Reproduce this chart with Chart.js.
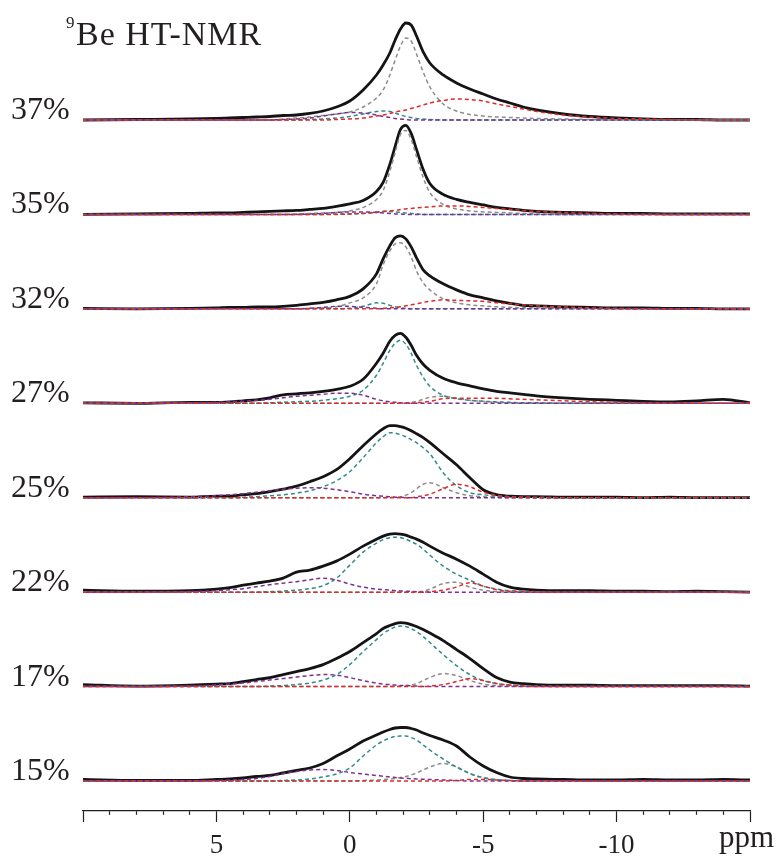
<!DOCTYPE html>
<html>
<head>
<meta charset="utf-8">
<script src="https://cdn.jsdelivr.net/npm/chart.js@4.4.1/dist/chart.umd.min.js"></script>
<style>
  html, body { margin: 0; padding: 0; background: #ffffff; }
  #wrap { width: 780px; height: 858px; }
</style>
</head>
<body>
<div id="wrap"><canvas id="nmr" width="780" height="858"></canvas></div>
<script>
// Chemical shift grid (ppm), shared by every trace
const PPM = [10, 8, 6, 5, 4.5, 4, 3.5, 3, 2.5, 2,
             1.5, 1, 0.5, 0, -0.5, -1, -1.25, -1.5, -1.7, -1.9,
             -2.1, -2.3, -2.5, -2.75, -3, -3.5, -4, -4.5, -5, -5.5,
             -6, -6.5, -7, -8, -9, -10, -11, -12, -13, -14,
             -15];

const SAMPLE_LABELS = ['37%', '35%', '32%', '27%', '25%', '22%', '17%', '15%'];
const X_TICK_LABELS = [5, 0, -5, -10];

// ---- 37% ----
const exp37 = [0, 0.5, 1, 1.5, 2, 2.5, 3, 3.5, 4.5, 5,
               6.5, 9, 13, 19, 30, 45, 55, 67, 80, 91,
               97, 95, 84, 68, 57, 45, 37, 31, 26, 21,
               17, 13, 10, 6, 3.5, 2, 1, 0.5, 0.5, 0,
               0];
const gray37 = [0, 0, 0, 0, 0, 0, 0, 0, 1, 2,
                3, 4.5, 6, 8, 13, 22, 30, 45, 60, 74,
                82, 79, 66, 48, 33, 16, 9, 5.5, 4, 3,
                2.5, 2, 1.5, 1, 0.5, 0, 0, 0, 0, 0,
                0];
const teal37 = [0, 0, 0, 0, 0, 0, 0, 0, 0, 0,
                0.5, 1, 2, 3.5, 6, 8.5, 9, 8.5, 7, 5,
                3.5, 2.5, 1.5, 1, 0.5, 0, 0, 0, 0, 0,
                0, 0, 0, 0, 0, 0, 0, 0, 0, 0,
                0];
const purple37 = [0, 0, 0, 0, 0, 0, 0, 0, 0.5, 1,
                  2, 4, 6, 7.5, 7, 5, 3.5, 2.5, 1.5, 1,
                  0.5, 0, 0, 0, 0, 0, 0, 0, 0, 0,
                  0, 0, 0, 0, 0, 0, 0, 0, 0, 0,
                  0];
const red37 = [0, 0, 0, 0, 0, 0, 0, 0, 0, 0,
               0, 0, 0.5, 1, 2, 4, 5, 6.5, 8, 9,
               10, 11.5, 13, 15, 17, 19.5, 21, 20.5, 19, 16,
               13.5, 11, 8.5, 5, 3, 1.5, 1, 0.5, 0, 0,
               0];

// ---- 35% ----
const exp35 = [0, 0.5, 1, 1.5, 1.5, 2, 2.5, 3, 3.5, 4,
               5, 6, 8, 10.5, 14, 23, 32, 50, 68, 85,
               89, 81, 65, 45, 31, 20, 15, 12, 9.5, 7,
               5.5, 4, 3, 2, 1.5, 1, 1, 0.5, 0.5, 0.5,
               0.5];
const gray35 = [0, 0, 0, 0, 0, 0, 0, 0, 0, 0.5,
                1, 1.5, 2, 3.5, 7, 15, 24, 43, 62, 80,
                84, 75, 58, 37, 22, 10, 5.5, 3.5, 2.5, 2,
                1.5, 1, 0.5, 0, 0, 0, 0, 0, 0, 0,
                0];
const teal35 = [0, 0, 0, 0, 0, 0, 0, 0, 0, 0,
                0, 0, 0.5, 0.5, 1, 2.5, 3, 3, 2.5, 2,
                1.5, 1, 0.5, 0, 0, 0, 0, 0, 0, 0,
                0, 0, 0, 0, 0, 0, 0, 0, 0, 0,
                0];
const purple35 = [0, 0, 0, 0, 0, 0, 0, 0, 0, 0,
                  0.5, 1, 2, 2.5, 2.5, 2, 1.5, 1, 0.5, 0.5,
                  0, 0, 0, 0, 0, 0, 0, 0, 0, 0,
                  0, 0, 0, 0, 0, 0, 0, 0, 0, 0,
                  0];
const red35 = [0, 0, 0, 0, 0, 0, 0, 0, 0, 0,
               0, 0, 0, 0.5, 1, 2, 3, 3.5, 4, 5,
               5.5, 6, 6.5, 7, 7.5, 8.5, 8.5, 8, 7, 6,
               5, 4, 3, 2, 1, 0.5, 0, 0, 0, 0,
               0];

// ---- 32% ----
const exp32 = [0.5, 0, 0.5, 1, 1.5, 1.5, 2, 2, 2.5, 3.5,
               5, 6.5, 9, 12.5, 20, 35, 50, 63, 71, 73,
               70, 62, 51, 39, 33, 25, 19, 14, 11, 8,
               5.5, 3.5, 3, 2, 1.5, 1, 1, 0.5, 0.5, 0,
               0];
const gray32 = [0, 0, 0, 0, 0, 0, 0, 0, 0, 0,
                0.5, 1, 2, 6, 11, 25, 44, 58, 65, 66,
                62, 52, 38, 26, 19, 10, 6, 4, 3, 2,
                1.5, 1, 1, 0.5, 0, 0, 0, 0, 0, 0,
                0];
const teal32 = [0, 0, 0, 0, 0, 0, 0, 0, 0, 0,
                0, 0, 0, 0.5, 2.5, 6, 5.5, 3.5, 2, 1,
                0.5, 0, 0, 0, 0, 0, 0, 0, 0, 0,
                0, 0, 0, 0, 0, 0, 0, 0, 0, 0,
                0];
const purple32 = [0, 0, 0, 0, 0, 0, 0, 0, 0, 0,
                  0.5, 1.5, 2.5, 2.5, 1.5, 0.5, 0, 0, 0, 0,
                  0, 0, 0, 0, 0, 0, 0, 0, 0, 0,
                  0, 0, 0, 0, 0, 0, 0, 0, 0, 0,
                  0];
const red32 = [0, 0, 0, 0, 0, 0, 0, 0, 0, 0,
               0, 0, 0, 0, 0, 0, 0.5, 1, 1.5, 2,
               3, 4, 5, 6.5, 7.5, 9, 8.5, 8, 7.5, 6,
               5, 4, 3, 2, 1, 0.5, 0, 0, 0, 0,
               0];

// ---- 27% ----
const exp27 = [0.5, 0, 1, 1, 1.5, 2.5, 3.5, 5.5, 8.5, 9.5,
               10.5, 12, 14, 17, 24, 40, 50, 62, 68, 70,
               66, 58, 48, 39, 33, 25, 20.5, 17.5, 14.5, 12,
               10.5, 9, 7.5, 5.5, 4, 3, 2, 1.5, 2.5, 4,
               0.5];
const gray27 = [0, 0, 0, 0, 0, 0, 0, 0, 0, 0,
                0, 0, 0, 0, 0, 0, 0, 0, 0, 0.5,
                0.5, 1, 2, 4, 6, 7, 5, 3, 2, 1,
                0.5, 0, 0, 0, 0, 0, 0, 0, 0, 0,
                0];
const teal27 = [0, 0, 0, 0, 0, 0, 0, 0.5, 1, 1.5,
                2, 3, 4.5, 7, 13, 28, 40, 53, 60, 63,
                59, 50, 38, 26, 17, 8, 4.5, 3, 2, 1.5,
                1, 0.5, 0.5, 0, 0, 0, 0, 0, 0, 0,
                0];
const purple27 = [0, 0, 0.5, 1, 1.5, 2, 3, 4, 5.5, 7,
                  8, 9, 10, 10, 8, 4, 2.5, 1.5, 1, 0.5,
                  0, 0, 0, 0, 0, 0, 0, 0, 0, 0,
                  0, 0, 0, 0, 0, 0, 0, 0, 0, 0,
                  0];
const red27 = [0, 0, 0, 0, 0, 0, 0, 0, 0, 0,
               0, 0, 0, 0, 0, 0, 0, 0, 0, 0,
               0, 0, 0.5, 1, 2, 4.5, 5, 5, 5, 5,
               4.5, 4, 3.5, 2.5, 1.5, 1, 0.5, 0, 0, 0,
               0];

// ---- 25% ----
const exp25 = [0.5, 1, 0.5, 1.5, 1.5, 3, 4, 6, 8.5, 11.5,
               16, 21, 28, 39, 52, 64, 69, 72, 72, 71,
               69.5, 67, 64, 60, 55, 44, 33, 20, 8, 3,
               1.5, 1, 1, 0.5, 0.5, 0.5, 0, 0.5, 0, 0,
               0];
const gray25 = [0, 0, 0, 0, 0, 0, 0, 0, 0, 0,
                0, 0, 0, 0, 0, 0, 0, 0.5, 0.5, 1,
                2.5, 5, 9, 13.5, 15, 10, 5, 2, 1, 0.5,
                0, 0, 0, 0, 0, 0, 0, 0, 0, 0,
                0];
const teal25 = [0, 0, 0, 0, 0, 0.5, 1, 2, 3, 4.5,
                7, 11, 17, 26, 40, 55, 61, 65, 64.5, 63,
                61, 58, 55, 50, 44, 25, 12, 5, 3, 1.5,
                1, 0.5, 0.5, 0, 0, 0, 0, 0, 0, 0,
                0];
const purple25 = [0, 0, 1, 2, 3, 4, 5.5, 7, 8.5, 9.5,
                  10, 9.5, 8, 6, 3.5, 2, 1.5, 1, 0.5, 0.5,
                  0, 0, 0, 0, 0, 0, 0, 0, 0, 0,
                  0, 0, 0, 0, 0, 0, 0, 0, 0, 0,
                  0];
const red25 = [0, 0, 0, 0, 0, 0, 0, 0, 0, 0,
               0, 0, 0, 0, 0, 0, 0, 0, 0, 0,
               0, 0, 1, 2, 3.5, 9, 13.5, 11, 5.5, 2.5,
               1, 0.5, 0, 0, 0, 0, 0, 0, 0, 0,
               0];

// ---- 22% ----
const exp22 = [2, 1, 1.5, 3, 4.5, 7, 9, 11, 14, 20,
               22, 26, 31, 38, 46, 53, 56, 58, 58.5, 58,
               57, 55, 53, 50, 46, 39, 33, 26, 18, 10,
               5, 3, 2, 1.5, 1.5, 1, 1, 0.5, 1, 0.5,
               0];
const gray22 = [0, 0, 0, 0, 0, 0, 0, 0, 0, 0,
                0, 0, 0, 0, 0, 0, 0, 0, 0, 0,
                0, 0, 0.5, 1, 3, 8.5, 10, 5, 2, 0.5,
                0, 0, 0, 0, 0, 0, 0, 0, 0, 0,
                0];
const teal22 = [0, 0, 0, 0, 0, 0, 0, 0.5, 1, 2,
                3.5, 6.5, 14, 27, 40, 49, 52.5, 54.5, 55, 54.5,
                53, 50.5, 48, 43, 37, 26, 18, 12, 6, 3,
                1.5, 1, 0.5, 0, 0, 0, 0, 0, 0, 0,
                0];
const purple22 = [0, 0, 0.5, 1.5, 2.5, 3.5, 5.5, 7.5, 9, 10.5,
                  12.5, 14, 12, 8, 5, 3, 2.5, 2, 1.5, 1.2,
                  1, 0.7, 0.5, 0, 0, 0, 0, 0, 0, 0,
                  0, 0, 0, 0, 0, 0, 0, 0, 0, 0,
                  0];
const red22 = [0, 0, 0, 0, 0, 0, 0, 0, 0, 0,
               0, 0, 0, 0, 0, 0, 0, 0, 0, 0,
               0, 0, 0, 0, 0.5, 2, 5, 9.5, 6, 2.5,
               1, 0.5, 0, 0, 0, 0, 0, 0, 0, 0,
               0];

// ---- 17% ----
const exp17 = [2, 0.5, 1.5, 2.5, 3, 5, 7, 9, 12, 15,
               18, 22, 28, 35, 44, 53, 58, 61, 63, 64,
               63.5, 62, 60, 57, 53.5, 46, 37, 28, 18, 9,
               4.5, 3, 2, 1.5, 1.5, 1, 1, 1, 1, 1,
               0.5];
const gray17 = [0, 0, 0, 0, 0, 0, 0, 0, 0, 0,
                0, 0, 0, 0, 0, 0, 0, 0, 0, 0.5,
                1, 1.5, 3, 6, 9, 13, 11, 6, 2.5, 1,
                0.5, 0, 0, 0, 0, 0, 0, 0, 0, 0,
                0];
const teal17 = [0, 0, 0, 0, 0, 0, 0, 0.5, 1, 2,
                3.5, 6.5, 12, 22, 35, 47, 53, 57, 59.5, 60.5,
                60, 58, 55, 50, 44, 32, 21, 12, 6, 3,
                1.5, 1, 0.5, 0, 0, 0, 0, 0, 0, 0,
                0];
const purple17 = [0, 0, 0.5, 1.5, 2.5, 3.5, 5, 6.5, 8, 9.5,
                  11, 12, 11.5, 9, 6, 3.5, 2.5, 2, 1.5, 1,
                  1, 0.7, 0.5, 0, 0, 0, 0, 0, 0, 0,
                  0, 0, 0, 0, 0, 0, 0, 0, 0, 0,
                  0];
const red17 = [0, 0, 0, 0, 0, 0, 0, 0, 0, 0,
               0, 0, 0, 0, 0, 0, 0, 0, 0, 0,
               0, 0, 0, 0, 0.5, 2, 5, 8, 6, 3,
               1.5, 0.5, 0, 0, 0, 0, 0, 0, 0, 0,
               0];

// ---- 15% ----
const exp15 = [1.5, 0.5, 0.5, 1.5, 2, 3, 4.5, 5.5, 8, 10.5,
               13, 17.5, 25, 32, 40, 46, 49, 51.5, 53, 53.5,
               53.5, 52.5, 51, 48, 45.5, 41, 35, 24, 15, 8.5,
               4, 2.5, 2, 1.5, 1, 1, 1.5, 1, 1, 1.5,
               1];
const gray15 = [0, 0, 0, 0, 0, 0, 0, 0, 0, 0,
                0, 0, 0, 0, 0.5, 1, 1.5, 2, 2.5, 3.5,
                4.5, 6, 8, 11, 14, 17.5, 14, 7.5, 3, 1,
                0.5, 0, 0, 0, 0, 0, 0, 0, 0, 0,
                0];
const teal15 = [0, 0, 0, 0, 0, 0, 0, 0, 0.5, 1,
                2, 4, 7, 13, 25, 36, 40, 43, 44.5, 45,
                45, 43.5, 41, 36, 31, 22, 14, 7.5, 3.5, 1.5,
                0.5, 0, 0, 0, 0, 0, 0, 0, 0, 0,
                0];
const purple15 = [0, 0, 0, 0.5, 1, 1.5, 2.5, 4.5, 7.5, 9.5,
                  11, 11.5, 10.5, 8.5, 7, 5.5, 4.7, 4, 3.5, 3,
                  2.7, 2.3, 2, 1.7, 1.5, 1, 0.5, 0, 0, 0,
                  0, 0, 0, 0, 0, 0, 0, 0, 0, 0,
                  0];
const red15 = [0, 0, 0, 0, 0, 0, 0, 0, 0, 0,
               0, 0, 0, 0, 0, 0, 0, 0, 0, 0,
               0, 0, 0, 0, 0, 0, 0.5, 1.5, 1.5, 1,
               0.5, 0, 0, 0, 0, 0, 0, 0, 0, 0,
               0];

const EXPERIMENTAL = [exp37, exp35, exp32, exp27, exp25, exp22, exp17, exp15];
const FIT_GRAY   = [gray37, gray35, gray32, gray27, gray25, gray22, gray17, gray15];
const FIT_TEAL   = [teal37, teal35, teal32, teal27, teal25, teal22, teal17, teal15];
const FIT_PURPLE = [purple37, purple35, purple32, purple27, purple25, purple22, purple17, purple15];
const FIT_RED    = [red37, red35, red32, red27, red25, red22, red17, red15];

// Vertical stacking of the traces (y units are pixels above the ppm axis)
const TRACE_STEP = 94.43;
const FIRST_BASE = 30;
const baseOf = i => FIRST_BASE + (SAMPLE_LABELS.length - 1 - i) * TRACE_STEP;

const SERIF = '"Liberation Serif", "Times New Roman", serif';

const toPoints = (vals, base) => PPM.map((x, j) => ({ x, y: base + vals[j] }));

const componentStyles = [
  { sets: FIT_GRAY,   color: '#8c8c8c', order: 4, offset: 0 },
  { sets: FIT_TEAL,   color: '#2f8c87', order: 3, offset: 2 },
  { sets: FIT_PURPLE, color: '#7d2f91', order: 2, offset: 4 },
  { sets: FIT_RED,    color: '#de2b2b', order: 1, offset: 1 }
];

const datasets = [];
SAMPLE_LABELS.forEach((lab, i) => {
  const base = baseOf(i);
  datasets.push({
    label: lab,
    data: toPoints(EXPERIMENTAL[i], base),
    borderColor: '#141414',
    borderWidth: 2.8,
    pointRadius: 0,
    cubicInterpolationMode: 'monotone',
    order: 5,
    clip: false
  });
  componentStyles.forEach(c => {
    datasets.push({
      label: lab + ' fit',
      data: toPoints(c.sets[i], base),
      borderColor: c.color,
      borderWidth: 1.5,
      borderDash: [4, 3],
      borderDashOffset: c.offset,
      pointRadius: 0,
      cubicInterpolationMode: 'monotone',
      order: c.order,
      clip: false
    });
  });
});

const textLayer = {
  id: 'textLayer',
  afterDraw(chart) {
    const ctx = chart.ctx;
    const y = chart.scales.y;
    ctx.save();
    ctx.fillStyle = '#231f20';
    ctx.textAlign = 'left';
    ctx.textBaseline = 'alphabetic';
    ctx.font = '32px ' + SERIF;
    SAMPLE_LABELS.forEach((lab, i) => {
      ctx.fillText(lab, 11, y.getPixelForValue(baseOf(i)) - 1);
    });
    // title with superscript mass number
    ctx.font = '17px ' + SERIF;
    ctx.fillText('9', 66, 28);
    ctx.font = '34px ' + SERIF;
    if ('letterSpacing' in ctx) ctx.letterSpacing = '1px';
    ctx.fillText('Be HT-NMR', 76, 45);
    if ('letterSpacing' in ctx) ctx.letterSpacing = '0px';
    // axis unit
    ctx.font = '31px ' + SERIF;
    ctx.fillText('ppm', 719, 847);
    ctx.restore();
  }
};

new Chart(document.getElementById('nmr'), {
  type: 'line',
  data: { datasets },
  options: {
    responsive: false,
    animation: false,
    devicePixelRatio: 1,
    layout: { padding: { left: 83, right: 30, top: 0, bottom: 0 } },
    plugins: { legend: { display: false }, tooltip: { enabled: false } },
    scales: {
      x: {
        type: 'linear',
        min: -15,
        max: 10,
        reverse: true,
        afterFit(scale) { scale.height = 47; },
        border: { display: true, color: '#231f20', width: 1.3 },
        grid: {
          drawOnChartArea: false,
          drawTicks: true,
          tickLength: 11,
          tickColor: '#231f20',
          tickWidth: 1.2,
          tickBorderDash: ctx => (ctx.tick && ctx.tick.value % 5 === 0) ? [] : [3.5, 30]
        },
        ticks: {
          stepSize: 1,
          autoSkip: false,
          maxRotation: 0,
          padding: 8,
          color: '#231f20',
          font: { family: SERIF, size: 27 },
          callback: v => X_TICK_LABELS.includes(v) ? String(v) : ''
        }
      },
      y: {
        type: 'linear',
        display: false,
        min: 0,
        max: 811
      }
    }
  },
  plugins: [textLayer]
});
</script>
</body>
</html>
